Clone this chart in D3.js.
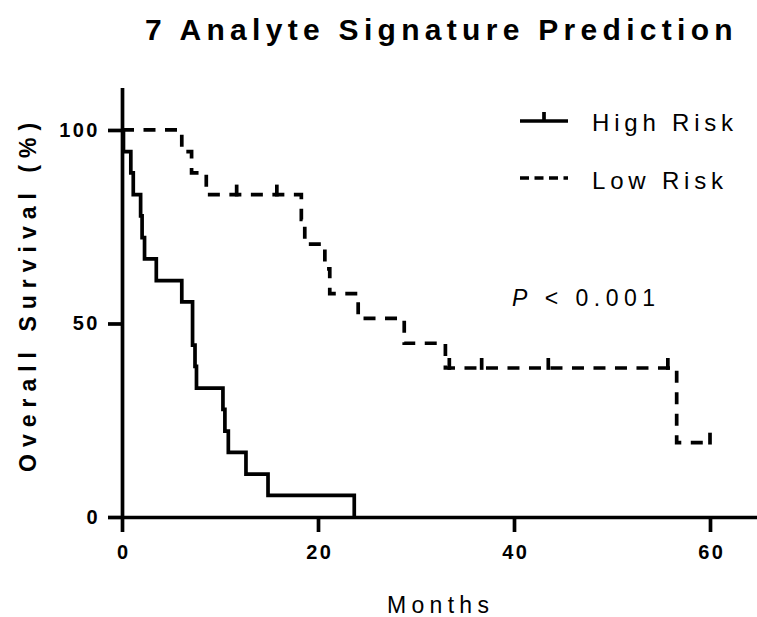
<!DOCTYPE html>
<html>
<head>
<meta charset="utf-8">
<script src="https://cdn.jsdelivr.net/npm/d3@7"></script>
<style>
  html, body { margin: 0; padding: 0; background: #fff; }
  svg { display: block; font-family: "Liberation Sans", Arial, sans-serif; }
</style>
</head>
<body>
<svg id="chart" width="757" height="617"></svg>
<script>
// Kaplan–Meier step points (months, % surviving)
const highTime = [0, 0.15, 0.9, 1.15, 1.9, 2.05, 2.3, 3.5, 6.1, 7.2, 7.45, 7.6, 10.3, 10.5, 10.85, 12.65, 14.9, 23.7];
const highSurv = [100, 94.4, 88.9, 83.3, 77.8, 72.2, 66.7, 61.1, 55.6, 44.4, 38.9, 33.3, 27.8, 22.2, 16.7, 11.1, 5.6, 0];

const lowTime = [0, 6.1, 7.1, 8.6, 18.3, 18.65, 20.7, 21.2, 24.1, 28.8, 33.0, 56.6, 60];
const lowSurv = [100, 94.4, 88.9, 83.3, 76.9, 70.5, 64.1, 57.7, 51.3, 44.9, 38.5, 19.2, 19.2];

// Censored observations on the low-risk arm
const lowCensorTime = [11.7, 15.8, 33.4, 36.7, 43.5, 55.7, 60];
const lowCensorSurv = [83.3, 83.3, 38.5, 38.5, 38.5, 38.5, 19.2];

const xTicks = [0, 20, 40, 60];
const yTicks = [0, 50, 100];
const seriesNames = ["High Risk", "Low Risk"];
const titleText = "7 Analyte Signature Prediction";
const xTitle = "Months";
const yTitle = "Overall Survival (%)";
const pValueText = "< 0.001";

const svg = d3.select("#chart");
const LW = 3.7;

const x = d3.scaleLinear().domain([0, 65]).range([122, 759]);
const y = d3.scaleLinear().domain([0, 111]).range([517, 87.4]);

// Axes
const xAxis = svg.append("g")
  .attr("transform", `translate(0,${y(0)})`)
  .call(d3.axisBottom(x).tickValues(xTicks).tickSize(15).tickSizeOuter(0).tickPadding(13));
const yAxis = svg.append("g")
  .attr("transform", `translate(${x(0)},0)`)
  .call(d3.axisLeft(y).tickValues(yTicks).tickSize(14).tickSizeOuter(0).tickPadding(8));

[xAxis, yAxis].forEach(g => {
  g.select(".domain").attr("stroke", "#000").attr("stroke-width", LW);
  g.selectAll(".tick line").attr("stroke", "#000").attr("stroke-width", LW);
  g.selectAll(".tick text")
    .attr("fill", "#000")
    .style("font-size", "20px")
    .style("font-weight", "bold")
    .style("letter-spacing", "2.5px")
    .style("font-family", "'Liberation Sans', Arial, sans-serif");
});
xAxis.selectAll(".tick text").attr("dx", "1.25px");

const line = d3.line()
  .x(d => x(d[0]))
  .y(d => y(d[1]))
  .curve(d3.curveStepAfter);

const highPts = highTime.map((t, i) => [t, highSurv[i]]);
const lowPts = lowTime.map((t, i) => [t, lowSurv[i]]);

// Low risk curve (dashed)
svg.append("path")
  .attr("d", line(lowPts))
  .attr("fill", "none")
  .attr("stroke", "#000")
  .attr("stroke-width", LW)
  .attr("stroke-dasharray", "12,9.5");

// High risk curve (solid)
svg.append("path")
  .attr("d", line(highPts))
  .attr("fill", "none")
  .attr("stroke", "#000")
  .attr("stroke-width", LW)
  .attr("stroke-linejoin", "miter");

// Censor marks
svg.append("g").selectAll("line")
  .data(lowCensorTime.map((t, i) => [t, lowCensorSurv[i]]))
  .join("line")
  .attr("x1", d => x(d[0])).attr("x2", d => x(d[0]))
  .attr("y1", d => y(d[1]) + LW / 2).attr("y2", d => y(d[1]) - 10)
  .attr("stroke", "#000").attr("stroke-width", LW);

// Title
svg.append("text")
  .attr("x", 145).attr("y", 40)
  .style("font-size", "30px").style("font-weight", "bold")
  .style("letter-spacing", "5.3px")
  .text(titleText);

// Axis titles
svg.append("text")
  .attr("x", 387).attr("y", 613)
  .style("font-size", "23px").style("letter-spacing", "5.3px")
  .text(xTitle);

svg.append("text")
  .attr("transform", "translate(36,472) rotate(-90)")
  .style("font-size", "23px").style("font-weight", "bold")
  .style("letter-spacing", "7px")
  .text(yTitle);

// Legend
const leg = svg.append("g");
leg.append("line")
  .attr("x1", 520).attr("x2", 568).attr("y1", 121).attr("y2", 121)
  .attr("stroke", "#000").attr("stroke-width", LW);
leg.append("line")
  .attr("x1", 544).attr("x2", 544).attr("y1", 121).attr("y2", 112)
  .attr("stroke", "#000").attr("stroke-width", LW);
leg.append("line")
  .attr("x1", 520).attr("x2", 568).attr("y1", 178).attr("y2", 178)
  .attr("stroke", "#000").attr("stroke-width", LW)
  .attr("stroke-dasharray", "9,5.5");
leg.selectAll("text")
  .data(seriesNames)
  .join("text")
  .attr("x", 592)
  .attr("y", (d, i) => 131 + i * 58)
  .style("font-size", "24px")
  .style("letter-spacing", "4.8px")
  .text(d => d);

// p-value annotation
const pt = svg.append("text")
  .attr("x", 512).attr("y", 306)
  .style("font-size", "23px").style("letter-spacing", "5.5px");
pt.append("tspan").style("font-style", "italic").text("P");
pt.append("tspan").text(" " + pValueText);
</script>
</body>
</html>
